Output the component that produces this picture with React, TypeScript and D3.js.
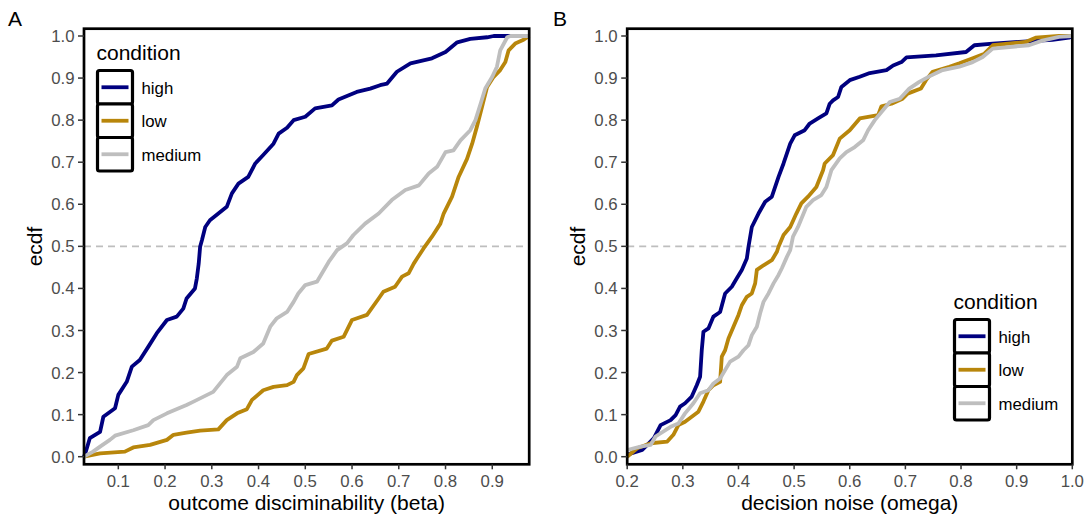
import React from "react";
import * as d3 from "d3";

// ---------- data ----------
const conditions = ["high", "low", "medium"];
const colors = ["#00007F", "#B8860B", "#BEBEBE"];

const yTicks = [0, 0.1, 0.2, 0.3, 0.4, 0.5, 0.6, 0.7, 0.8, 0.9, 1.0];
const xTicksA = [0.1, 0.2, 0.3, 0.4, 0.5, 0.6, 0.7, 0.8, 0.9];
const xTicksB = [0.2, 0.3, 0.4, 0.5, 0.6, 0.7, 0.8, 0.9, 1.0];

// Panel A: outcome discriminability (beta) — [value, ecdf]
const betaHigh: [number, number][] = [[0.0266,0],[0.03,0.01],[0.039,0.044],[0.061,0.059],[0.068,0.095],[0.093,0.115],[0.1,0.147],[0.118,0.178],[0.129,0.214],[0.146,0.23],[0.164,0.261],[0.182,0.293],[0.204,0.325],[0.225,0.333],[0.239,0.352],[0.246,0.376],[0.264,0.4],[0.268,0.424],[0.272,0.459],[0.275,0.499],[0.279,0.515],[0.286,0.546],[0.296,0.562],[0.314,0.578],[0.332,0.594],[0.343,0.626],[0.357,0.649],[0.378,0.665],[0.393,0.697],[0.41,0.717],[0.432,0.744],[0.443,0.768],[0.461,0.782],[0.475,0.8],[0.5,0.808],[0.521,0.828],[0.557,0.835],[0.571,0.849],[0.61,0.867],[0.639,0.875],[0.66,0.883],[0.675,0.887],[0.696,0.915],[0.725,0.935],[0.771,0.947],[0.8,0.962],[0.825,0.985],[0.853,0.993],[0.889,0.997],[0.903,1.0],[0.979,1.0]];
const betaLow: [number, number][] = [[0.0266,0],[0.061,0.008],[0.114,0.012],[0.132,0.022],[0.168,0.028],[0.204,0.04],[0.218,0.052],[0.246,0.057],[0.275,0.062],[0.314,0.065],[0.332,0.087],[0.354,0.103],[0.375,0.113],[0.386,0.135],[0.41,0.158],[0.432,0.166],[0.461,0.17],[0.475,0.178],[0.482,0.194],[0.496,0.21],[0.507,0.244],[0.546,0.257],[0.557,0.276],[0.582,0.285],[0.6,0.325],[0.632,0.337],[0.657,0.376],[0.667,0.392],[0.692,0.404],[0.707,0.428],[0.721,0.436],[0.732,0.459],[0.739,0.471],[0.753,0.495],[0.771,0.523],[0.789,0.554],[0.796,0.578],[0.814,0.618],[0.828,0.665],[0.846,0.708],[0.857,0.744],[0.867,0.784],[0.878,0.831],[0.889,0.879],[0.903,0.903],[0.917,0.919],[0.928,0.938],[0.935,0.966],[0.949,0.982],[0.967,0.991],[0.979,1.0]];
const betaMedium: [number, number][] = [[0.0266,0],[0.046,0.012],[0.061,0.024],[0.082,0.04],[0.093,0.05],[0.132,0.063],[0.164,0.075],[0.175,0.087],[0.204,0.103],[0.246,0.123],[0.261,0.131],[0.303,0.154],[0.332,0.194],[0.354,0.214],[0.361,0.234],[0.389,0.249],[0.41,0.269],[0.425,0.309],[0.439,0.329],[0.461,0.344],[0.475,0.368],[0.485,0.388],[0.5,0.408],[0.525,0.416],[0.55,0.463],[0.568,0.491],[0.589,0.507],[0.603,0.527],[0.628,0.554],[0.657,0.578],[0.685,0.61],[0.714,0.634],[0.743,0.645],[0.764,0.673],[0.782,0.689],[0.8,0.724],[0.817,0.728],[0.832,0.752],[0.853,0.776],[0.864,0.8],[0.875,0.839],[0.885,0.875],[0.9,0.903],[0.91,0.927],[0.917,0.966],[0.932,0.997],[0.939,1.0],[0.979,1.0]];

// Panel B: decision noise (omega) — [value, ecdf]
const omegaHigh: [number, number][] = [[0.2,0.005],[0.227,0.016],[0.248,0.044],[0.26,0.075],[0.278,0.087],[0.287,0.099],[0.295,0.119],[0.304,0.127],[0.316,0.143],[0.325,0.17],[0.331,0.19],[0.334,0.253],[0.337,0.297],[0.346,0.305],[0.355,0.333],[0.367,0.344],[0.376,0.388],[0.388,0.404],[0.397,0.424],[0.406,0.444],[0.415,0.471],[0.418,0.499],[0.424,0.546],[0.436,0.578],[0.448,0.606],[0.46,0.618],[0.472,0.665],[0.481,0.697],[0.493,0.744],[0.501,0.764],[0.519,0.776],[0.528,0.792],[0.543,0.804],[0.558,0.816],[0.564,0.839],[0.57,0.847],[0.579,0.855],[0.585,0.879],[0.6,0.895],[0.618,0.903],[0.636,0.912],[0.666,0.919],[0.678,0.93],[0.693,0.938],[0.702,0.949],[0.755,0.954],[0.809,0.962],[0.824,0.978],[0.857,0.982],[0.904,0.986],[0.964,0.991],[0.994,0.996],[1.0,1.0]];
const omegaLow: [number, number][] = [[0.2,0],[0.218,0.02],[0.242,0.032],[0.272,0.036],[0.283,0.052],[0.292,0.075],[0.304,0.083],[0.316,0.095],[0.328,0.107],[0.337,0.131],[0.346,0.158],[0.355,0.17],[0.367,0.178],[0.37,0.238],[0.376,0.253],[0.382,0.281],[0.391,0.309],[0.4,0.337],[0.406,0.36],[0.415,0.38],[0.424,0.388],[0.43,0.412],[0.433,0.444],[0.445,0.455],[0.46,0.467],[0.469,0.487],[0.472,0.499],[0.481,0.527],[0.493,0.546],[0.504,0.578],[0.513,0.602],[0.525,0.618],[0.54,0.641],[0.552,0.681],[0.555,0.697],[0.57,0.717],[0.582,0.756],[0.6,0.776],[0.618,0.804],[0.651,0.812],[0.657,0.833],[0.675,0.839],[0.695,0.851],[0.704,0.863],[0.728,0.875],[0.737,0.895],[0.749,0.915],[0.779,0.927],[0.797,0.935],[0.821,0.947],[0.842,0.958],[0.857,0.978],[0.916,0.986],[0.934,0.996],[0.976,1.0],[1.0,1.0]];
const omegaMedium: [number, number][] = [[0.2,0.016],[0.224,0.024],[0.242,0.028],[0.251,0.048],[0.278,0.071],[0.292,0.079],[0.304,0.103],[0.319,0.127],[0.331,0.151],[0.346,0.158],[0.355,0.174],[0.367,0.186],[0.376,0.206],[0.385,0.226],[0.4,0.238],[0.409,0.253],[0.418,0.265],[0.424,0.289],[0.433,0.309],[0.439,0.341],[0.445,0.368],[0.454,0.388],[0.463,0.412],[0.472,0.432],[0.478,0.448],[0.487,0.475],[0.493,0.491],[0.498,0.523],[0.507,0.546],[0.522,0.594],[0.534,0.61],[0.549,0.622],[0.558,0.641],[0.567,0.681],[0.582,0.709],[0.594,0.724],[0.609,0.736],[0.624,0.752],[0.633,0.776],[0.645,0.8],[0.66,0.824],[0.672,0.843],[0.69,0.851],[0.707,0.875],[0.725,0.891],[0.743,0.904],[0.767,0.919],[0.797,0.927],[0.821,0.938],[0.839,0.95],[0.857,0.97],[0.922,0.978],[0.946,0.989],[0.976,0.998],[1.0,1.0]];

// ---------- layout ----------
const W = 1091, H = 518;
const FONT = "'Liberation Sans', Arial, Helvetica, sans-serif";
const TOP = 28.7, BOTTOM = 464.3;

type PanelProps = {
  letter: string;
  letterX: number;
  left: number;
  right: number;
  domain: [number, number];
  ticks: number[];
  xTitle: string;
  series: [number, number][][];
  legendX: number;
  legendY: number; // title baseline
};

function Panel(p: PanelProps) {
  const x = d3.scaleLinear().domain(p.domain).range([p.left, p.right]);
  const y = d3.scaleLinear().domain([0, 1]).range([456.7, 36]);
  const line = d3.line<[number, number]>().x(d => x(d[0])).y(d => y(d[1])).curve(d3.curveLinear);
  const keyW = 35, keyH = 33.5;
  const keyTop = p.legendY + 11;
  return (
    <g>
      <text x={p.letterX} y={25.5} fontSize={21} fontFamily={FONT} fill="#000">{p.letter}</text>
      {/* dashed reference line */}
      <line x1={p.left} x2={p.right} y1={y(0.5)} y2={y(0.5)} stroke="#BEBEBE" strokeWidth={1.6} strokeDasharray="7,5" />
      {/* curves */}
      {p.series.map((s, i) => (
        <path key={i} d={line(s) || ""} fill="none" stroke={colors[i]} strokeWidth={3.8} strokeLinejoin="round" strokeLinecap="butt" />
      ))}
      {/* border */}
      <rect x={p.left} y={TOP} width={p.right - p.left} height={BOTTOM - TOP} fill="none" stroke="#000" strokeWidth={2.7} />
      {/* y ticks */}
      {yTicks.map(t => (
        <g key={"y" + t}>
          <line x1={p.left - 6} x2={p.left} y1={y(t)} y2={y(t)} stroke="#333" strokeWidth={1.5} />
          <text x={p.left - 9.5} y={y(t)} dy="0.36em" textAnchor="end" fontSize={16.8} fontFamily={FONT} fill="#4D4D4D">{t.toFixed(1)}</text>
        </g>
      ))}
      {/* x ticks */}
      {p.ticks.map(t => (
        <g key={"x" + t}>
          <line x1={x(t)} x2={x(t)} y1={BOTTOM} y2={BOTTOM + 5} stroke="#333" strokeWidth={1.5} />
          <text x={x(t)} y={487} textAnchor="middle" fontSize={16.8} fontFamily={FONT} fill="#4D4D4D">{t.toFixed(1)}</text>
        </g>
      ))}
      {/* axis titles */}
      <text x={(p.left + p.right) / 2} y={510} textAnchor="middle" fontSize={21} fontFamily={FONT} fill="#000">{p.xTitle}</text>
      <text transform={`translate(${p.left - 42.5},${(TOP + BOTTOM) / 2}) rotate(-90)`} textAnchor="middle" fontSize={21} fontFamily={FONT} fill="#000">ecdf</text>
      {/* legend */}
      <g>
        <text x={p.legendX} y={p.legendY} fontSize={21} fontFamily={FONT} fill="#000">condition</text>
        {conditions.map((c, i) => {
          const ty = keyTop + i * keyH;
          const cy = ty + keyH / 2;
          return (
            <g key={c}>
              <rect x={p.legendX + 1} y={ty} width={keyW} height={keyH} fill="#fff" stroke="#000" strokeWidth={3.2} rx={2} />
              <line x1={p.legendX + 5} x2={p.legendX + 32} y1={cy} y2={cy} stroke={colors[i]} strokeWidth={3.8} />
              <text x={p.legendX + 45} y={cy + 6.3} fontSize={16.8} fontFamily={FONT} fill="#000">{c}</text>
            </g>
          );
        })}
      </g>
    </g>
  );
}

export default function App() {
  return (
    <svg width={W} height={H} style={{ position: "absolute", left: 0, top: 0, background: "#fff" }}>
      <rect x={0} y={0} width={W} height={H} fill="#fff" />
      <Panel
        letter="A" letterX={8} left={84} right={529.2} domain={[0.0266, 0.979]}
        ticks={xTicksA} xTitle="outcome disciminability (beta)"
        series={[betaHigh, betaLow, betaMedium]} legendX={96.5} legendY={59.5}
      />
      <Panel
        letter="B" letterX={553} left={627.2} right={1072.3} domain={[0.2, 1.0]}
        ticks={xTicksB} xTitle="decision noise (omega)"
        series={[omegaHigh, omegaLow, omegaMedium]} legendX={953.5} legendY={308.5}
      />
    </svg>
  );
}
